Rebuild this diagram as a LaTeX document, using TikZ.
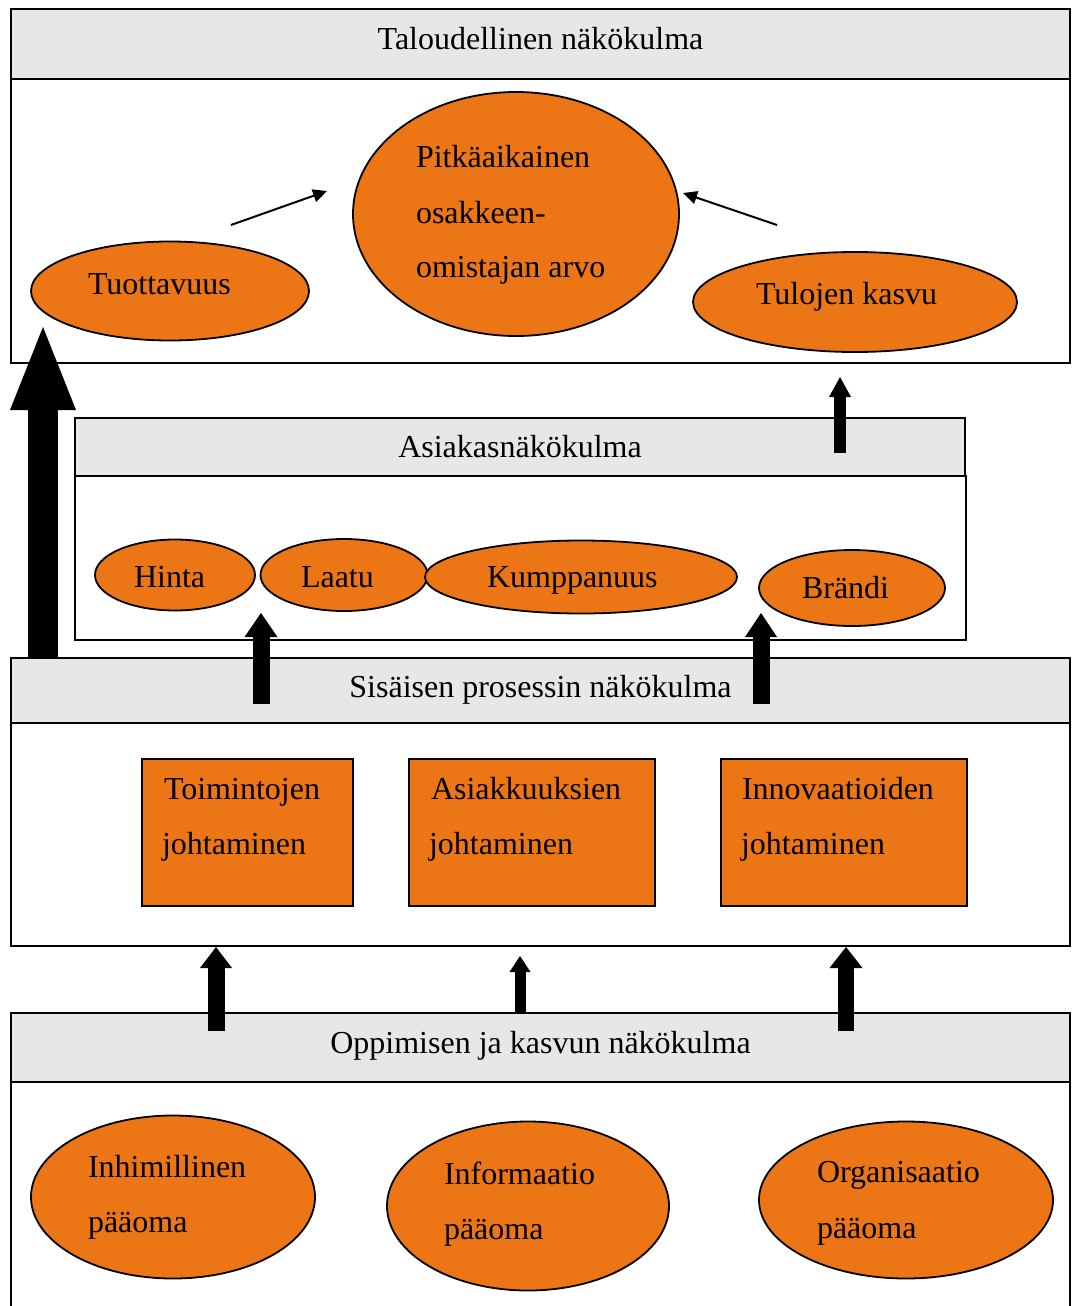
\documentclass[tikz,border=0pt]{standalone}
\usepackage{fontspec}
\setmainfont{Liberation Serif}
\usetikzlibrary{shapes.geometric,arrows.meta}
\definecolor{fillorange}{RGB}{236,118,21}
\definecolor{headgray}{RGB}{232,230,232}
\begin{document}
\begin{tikzpicture}[x=1pt,y=-1pt,
  every node/.style={outer sep=0pt},
  txt/.style={inner sep=0pt,font=\fontsize{32}{38}\selectfont},
  header/.style={draw=black,fill=headgray,line width=1.8pt,inner sep=0pt,anchor=north west},
  panel/.style={draw=black,fill=white,line width=1.8pt,inner sep=0pt,anchor=north west},
  oval/.style={ellipse,draw=black,fill=fillorange,line width=1.8pt,inner sep=0pt},
  task/.style={draw=black,fill=fillorange,line width=1.8pt,inner sep=0pt,anchor=north west},
  thinarrow/.style={line width=2pt,-{Triangle[length=14pt,width=13pt]}},
  blockarrow/.style n args={3}{line width=#1,-{Triangle[width=#2,length=#3,line width=0pt]}}
  ]
\useasboundingbox (0,0) rectangle (1072,1306);

% --- financial perspective ---
\node[header,minimum width=1059pt,minimum height=70pt] (talH) at (11,9) {};
\node[panel,minimum width=1059pt,minimum height=284pt] (talB) at (11,79) {};
\node[txt,anchor=base] (talT) at (540.5,49) {Taloudellinen näkökulma};

\node[oval,minimum width=326pt,minimum height=244pt] (pitk) at (516,214) {};
\node[oval,minimum width=278pt,minimum height=99pt] (tuot) at (170,291) {};
\node[oval,minimum width=324pt,minimum height=100pt] (tulo) at (855,302) {};
\node[txt,anchor=base west] (pitk1) at (416,167) {Pitkäaikainen};
\node[txt,anchor=base west] (pitk2) at (416,223) {osakkeen-};
\node[txt,anchor=base west] (pitk3) at (416,277) {omistajan arvo};
\node[txt,anchor=base west] (tuotT) at (88,294) {Tuottavuus};
\node[txt,anchor=base west] (tuloT) at (756,304) {Tulojen kasvu};

\coordinate (a1s) at (231,225);
\coordinate (a1e) at (327,191);
\coordinate (a2s) at (777,225);
\coordinate (a2e) at (683,193);
\draw[thinarrow] (a1s) -- (a1e);
\draw[thinarrow] (a2s) -- (a2e);

% --- customer perspective ---
\node[header,minimum width=890pt,minimum height=58pt] (asiH) at (75,418) {};
\node[panel,minimum width=891pt,minimum height=164pt] (asiB) at (75,476) {};
\node[txt,anchor=base] (asiT) at (520,457) {Asiakasnäkökulma};

\node[oval,minimum width=160pt,minimum height=71pt] (hinta) at (175,575) {};
\node[oval,minimum width=167pt,minimum height=72pt] (laatu) at (344,575) {};
\node[oval,minimum width=312pt,minimum height=73pt] (kump) at (581,577) {};
\node[oval,minimum width=186pt,minimum height=76pt] (brandi) at (852,588) {};
\node[txt,anchor=base west] (hintaT) at (134,587) {Hinta};
\node[txt,anchor=base west] (laatuT) at (301,587) {Laatu};
\node[txt,anchor=base west] (kumpT) at (487,587) {Kumppanuus};
\node[txt,anchor=base west] (brandiT) at (802,598) {Brändi};

% --- internal process perspective ---
\node[header,minimum width=1059pt,minimum height=65pt] (sisH) at (11,658) {};
\node[panel,minimum width=1059pt,minimum height=223pt] (sisB) at (11,723) {};
\node[txt,anchor=base] (sisT) at (540.5,697) {Sisäisen prosessin näkökulma};

\node[task,minimum width=211pt,minimum height=147pt] (toim) at (142,759) {};
\node[task,minimum width=246pt,minimum height=147pt] (asia) at (409,759) {};
\node[task,minimum width=246pt,minimum height=147pt] (inno) at (721,759) {};
\node[txt,anchor=base west] (toim1) at (164,799) {Toimintojen};
\node[txt,anchor=base west] (toim2) at (162,854) {johtaminen};
\node[txt,anchor=base west] (asia1) at (431,799) {Asiakkuuksien};
\node[txt,anchor=base west] (asia2) at (429,854) {johtaminen};
\node[txt,anchor=base west] (inno1) at (742,799) {Innovaatioiden};
\node[txt,anchor=base west] (inno2) at (741,854) {johtaminen};

% --- learning and growth perspective ---
\node[header,minimum width=1059pt,minimum height=69pt] (oppH) at (11,1013) {};
\node[panel,minimum width=1059pt,minimum height=260pt] (oppB) at (11,1082) {};
\node[txt,anchor=base] (oppT) at (540.5,1053) {Oppimisen ja kasvun näkökulma};

\node[oval,minimum width=284pt,minimum height=163pt] (inhi) at (173,1197) {};
\node[oval,minimum width=282pt,minimum height=169pt] (info) at (528,1206) {};
\node[oval,minimum width=294pt,minimum height=157pt] (orga) at (906,1200) {};
\node[txt,anchor=base west] (inhi1) at (88,1177) {Inhimillinen};
\node[txt,anchor=base west] (inhi2) at (88,1232) {pääoma};
\node[txt,anchor=base west] (info1) at (444,1184) {Informaatio};
\node[txt,anchor=base west] (info2) at (444,1239) {pääoma};
\node[txt,anchor=base west] (orga1) at (817,1182) {Organisaatio};
\node[txt,anchor=base west] (orga2) at (817,1238) {pääoma};

% --- block arrows between the perspectives ---
\coordinate (b1s) at (43,658);   \coordinate (b1e) at (43,327);
\coordinate (b2s) at (840,453);  \coordinate (b2e) at (840,377);
\coordinate (b3s) at (261,704);  \coordinate (b3e) at (261,613);
\coordinate (b4s) at (761,704);  \coordinate (b4e) at (761,613);
\coordinate (b5s) at (216,1031); \coordinate (b5e) at (216,947);
\coordinate (b6s) at (520,1013); \coordinate (b6e) at (520,956);
\coordinate (b7s) at (846,1031); \coordinate (b7e) at (846,947);
\draw[blockarrow={30pt}{66pt}{83pt}] (b1s) -- (b1e);
\draw[blockarrow={12pt}{22pt}{20pt}] (b2s) -- (b2e);
\draw[blockarrow={17pt}{33pt}{24pt}] (b3s) -- (b3e);
\draw[blockarrow={17pt}{32pt}{24pt}] (b4s) -- (b4e);
\draw[blockarrow={17pt}{32pt}{21pt}] (b5s) -- (b5e);
\draw[blockarrow={11pt}{21pt}{16pt}] (b6s) -- (b6e);
\draw[blockarrow={16pt}{33pt}{21pt}] (b7s) -- (b7e);
\end{tikzpicture}
\end{document}
